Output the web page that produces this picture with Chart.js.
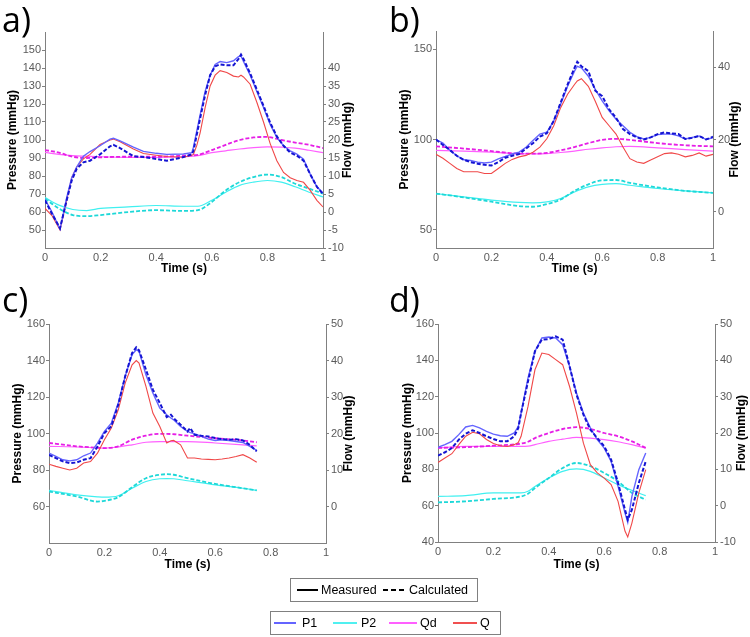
<!DOCTYPE html>
<html><head><meta charset="utf-8">
<script src="https://cdn.jsdelivr.net/npm/chart.js@4"></script>
<style>
body{margin:0;background:#fff;width:750px;height:637px;position:relative;overflow:hidden;font-family:"Liberation Sans",Arial,sans-serif}
canvas{position:absolute}
.lab{position:absolute;font-family:"Open Sans",sans-serif;font-size:34px;line-height:1;color:#000}
.box{position:absolute;border:1px solid #808080;background:#fff;box-sizing:border-box}
.ln{position:absolute;height:2px}
.tx{position:absolute;font-family:"Liberation Sans",Arial,sans-serif;font-size:12.5px;line-height:14px;color:#000;white-space:nowrap}
</style>
</head><body>
<canvas id="ca" width="375" height="290" style="left:0;top:0"></canvas>
<canvas id="cb" width="375" height="290" style="left:375px;top:0"></canvas>
<canvas id="cc" width="375" height="290" style="left:0;top:290px"></canvas>
<canvas id="cd" width="375" height="290" style="left:375px;top:290px"></canvas>
<div class="lab" style="left:2px;top:2px">a)</div>
<div class="lab" style="left:389px;top:2px">b)</div>
<div class="lab" style="left:2px;top:282px">c)</div>
<div class="lab" style="left:389px;top:282px">d)</div>

<div class="box" style="left:290px;top:578px;width:188px;height:24px"></div>
<div class="ln" style="left:297px;top:589px;width:21px;height:1.5px;background:#000"></div>
<div class="tx" style="left:321px;top:583px">Measured</div>
<div class="ln" style="left:383px;top:589px;width:5px;background:#000"></div>
<div class="ln" style="left:391px;top:589px;width:5px;background:#000"></div>
<div class="ln" style="left:399px;top:589px;width:5px;background:#000"></div>
<div class="tx" style="left:409px;top:583px">Calculated</div>

<div class="box" style="left:270px;top:611px;width:231px;height:24px"></div>
<div class="ln" style="left:274px;top:622px;width:22px;background:#6464ff"></div>
<div class="tx" style="left:302px;top:616px">P1</div>
<div class="ln" style="left:333px;top:622px;width:24px;background:#50f0f0"></div>
<div class="tx" style="left:361px;top:616px">P2</div>
<div class="ln" style="left:389px;top:622px;width:28px;background:#ff60ff"></div>
<div class="tx" style="left:420px;top:616px">Qd</div>
<div class="ln" style="left:453px;top:622px;width:24px;background:#f05050"></div>
<div class="tx" style="left:480px;top:616px">Q</div>

<script>
// ---------- tick labels ----------
const xTicks = [0, 0.2, 0.4, 0.6, 0.8, 1];
const aPTicks = [50, 60, 70, 80, 90, 100, 110, 120, 130, 140, 150];
const aFTicks = [-10, -5, 0, 5, 10, 15, 20, 25, 30, 35, 40];
const bPTicks = [50, 100, 150];
const bFTicks = [0, 20, 40];
const cPTicks = [60, 80, 100, 120, 140, 160];
const cFTicks = [0, 10, 20, 30, 40, 50];
const dPTicks = [40, 60, 80, 100, 120, 140, 160];
const dFTicks = [-10, 0, 10, 20, 30, 40, 50];

// ---------- panel a ----------
const aT = [0,0.025,0.054,0.078,0.096,0.114,0.138,0.162,0.198,0.234,0.246,0.27,0.318,0.354,0.4,0.438,0.498,0.528,0.534,0.546,0.558,0.576,0.594,0.612,0.63,0.654,0.678,0.696,0.705,0.714,0.738,0.762,0.786,0.81,0.834,0.858,0.882,0.906,0.93,0.954,0.978,1];
const aP1m = [67,60,50.5,68,79,85,91,93.6,96.8,100.5,101,99.5,96,93.7,92.6,92,92.2,93,96,105,114,127,136,142,143.6,143,144,146.3,146.7,143.6,136,127,118,108.7,101.4,96.8,94,92.2,89.4,81,74,70.5];
const aP1c = [66.5,59,51,66.5,77.5,84,87.6,88.5,92,96.5,97.3,95.5,91,90.5,89.5,88.5,90.5,92,94,103,112,125,136,141,142,141.5,141.5,145,147.5,145,137,128,119,109.6,102,96.8,93,91.3,88.5,81,74,70];
const aQ = [1,-1,-5,3.25,9.5,12.5,14.75,16,18.75,20,20.25,19.5,17.5,16.25,15.75,15.4,15.2,15.75,16,18.5,22,29,35,38,39.25,38.75,37.75,37.5,38,37.5,35.5,30.5,25,19,14.25,11,9.5,8.75,8.25,6,3.25,1.4];
const aTs = [0,0.05,0.1,0.15,0.2,0.3,0.4,0.5,0.55,0.6,0.65,0.7,0.75,0.8,0.85,0.9,0.95,1];
const aQdm = [16.55,16,15.65,15.5,15.35,15.2,15.2,15.35,15.65,16.5,17,17.5,17.9,18.1,18,17.75,17.15,16.5];
const aQdc = [17.2,16.5,15.35,15,15.2,15.35,15.35,15.65,15.9,17.2,18.65,20,20.7,20.85,20,19.3,18.65,17.75];
const aP2m = [68,63.8,61.4,60.8,62,62.8,63.6,63.2,63.2,66.5,71,74.8,76.6,77.5,76.6,74,71,68.4];
const aP2c = [67.4,62,58.3,57.7,58.3,60,61,60.6,61,65.6,72,76.6,79.4,80.8,79.4,75.7,73,70.2];

// ---------- panel b ----------
const bT = [0,0.025,0.05,0.075,0.1,0.125,0.15,0.175,0.2,0.225,0.25,0.275,0.3,0.325,0.35,0.375,0.4,0.425,0.45,0.475,0.5,0.51,0.525,0.55,0.575,0.6,0.625,0.65,0.675,0.7,0.725,0.75,0.775,0.8,0.825,0.85,0.875,0.9,0.925,0.95,0.975,1];
const bP1m = [100,98,94,91,88.8,88.4,87.5,87,87.5,89.3,90.6,92,93,95.7,99.4,103,104,110.3,119.5,129.5,137.8,140.5,139.6,135,127.7,121.3,115.8,111.2,107.6,104,101.6,100.3,101.2,102.7,103,103,102,100.3,101.2,102,100,101];
const bP1c = [100,97,94.2,91,88.8,87.5,86.6,86,85.6,87.5,89.9,91,92,95,97.9,101.6,103.4,110.3,120.4,130.4,139.6,143,140.5,137.8,127,124,116.7,112,105.8,103,101.2,100,101.2,103,103.9,103.4,103,100.3,100.9,102,100,101.5];
const bQ = [15.9,14.8,13.4,12,11.1,11.1,11.1,10.6,10.6,12,13.4,14.5,15.2,15.6,16.5,17.9,20.2,23.8,28.8,32.5,35.2,36.2,36.8,34.7,30.6,26.1,23.8,21.5,17.9,14.7,13.8,13.4,14.3,15.2,16.1,16.3,15.9,15.2,15.6,16.3,15.4,15.9];
const bTs = [0,0.1,0.2,0.3,0.35,0.4,0.45,0.5,0.55,0.6,0.65,0.7,0.8,0.9,1];
const bQdm = [17,16.8,16.5,16.1,16.05,16.1,16.4,16.8,17.3,17.7,18,18.1,17.7,17.2,16.8];
const bQdc = [18.1,17.5,16.8,16.1,16.1,16.3,17,17.9,19,19.9,20.2,19.9,19,18.4,18.1];
const bP2m = [70.1,68.3,66.5,65.2,65,65.5,67.4,71,73.8,75.2,75.6,74.7,72.9,71.6,70.5];
const bP2c = [70.1,68,65.6,63.2,62.8,64.3,66.8,71.6,75.2,77.4,77.6,76,73.5,71.6,70.5];

// ---------- panel c ----------
const cT = [0,0.025,0.05,0.075,0.1,0.125,0.15,0.175,0.2,0.225,0.25,0.275,0.3,0.315,0.325,0.35,0.375,0.4,0.425,0.44,0.45,0.475,0.5,0.51,0.525,0.55,0.575,0.6,0.625,0.65,0.675,0.7,0.725,0.75];
const cP1m = [89.3,87.4,85.6,85,85.6,87.8,89.3,94.7,101.1,105.7,116.7,131.3,143.2,145.9,145,132.2,122.2,113.9,110.3,108.5,107.5,103.9,101.1,100.5,99.9,98.4,96.9,96.2,96.6,96.2,95.6,95.1,92.9,90.7];
const cP1c = [88.3,86.5,84.7,83.8,84.1,85.6,86.5,92.9,100.2,103.9,115.8,131.3,144.1,147.2,145.6,135,124,116.7,109,110.3,108.4,104.8,101.1,103,99.3,98.8,98.4,97.5,96.9,96.6,96.9,96.2,93.8,90.2];
const cQ = [11.6,11,10.5,10,10.5,11.9,12.3,14.6,18.3,21.5,26.5,33.8,38.8,40,39.3,32.9,25.6,21.9,17.4,18,18.1,16.9,13.3,13.3,13.3,13,12.9,12.8,13,13.3,13.7,14.2,13.3,12.1];
const cTs = [0,0.1,0.175,0.2,0.25,0.3,0.35,0.4,0.425,0.45,0.5,0.6,0.7,0.75];
const cQdm = [16.5,16.3,16.1,16,16.3,16.9,17.6,17.8,17.8,17.8,17.8,17.4,16.9,16.6];
const cQdc = [17.4,16.5,16.1,16,16.5,18.3,19.4,19.9,19.9,19.8,19.4,18.7,18.1,17.6];
const cP2m = [68.8,66.4,65.3,65.1,65.9,70,73.7,75.2,75.3,75.2,74.1,71.9,70,68.8];
const cP2c = [68.2,65.5,62.7,63.1,65.1,70.6,75.5,77.4,77.7,77.4,75.5,72.4,70,68.8];

// ---------- panel d ----------
const dT = [0,0.025,0.05,0.075,0.1,0.125,0.15,0.175,0.2,0.225,0.25,0.275,0.29,0.3,0.325,0.35,0.375,0.4,0.425,0.45,0.475,0.5,0.525,0.55,0.575,0.6,0.625,0.65,0.675,0.685,0.7,0.725,0.75];
const dP1m = [92.1,93.6,95.4,99.1,103.3,104.2,102.8,100.9,99.4,98.5,98.2,100,103.7,111,130.3,145,152.3,152.8,152.3,148.6,136.7,122,111,102.8,96.3,91.7,84.4,70.6,56,50.8,65.1,79.8,89];
const dP1c = [87.5,89.4,91.7,96.3,99.6,101.5,100,98.2,96.7,95.4,95.4,98.2,102.8,111,128.4,145,151.4,151.7,153.2,151.4,136.7,121.1,110.1,101.8,97.2,92.7,85.3,72.5,57.8,52.3,57.8,72.5,84.4];
const dQ = [11.9,13.1,14.3,16.8,19.1,20.2,19.8,18.2,17.1,16.5,16.3,16.8,17.4,19.1,27.3,37.4,42,41.6,40.2,38.8,32.8,25.5,17.2,11.3,9,7.6,5.8,1.2,-7,-8.6,-4.8,3.5,9.9];
const dTs = [0,0.1,0.2,0.3,0.325,0.35,0.4,0.45,0.5,0.55,0.6,0.65,0.7,0.75];
const dQdm = [15.9,16.3,16.3,16.3,16.4,16.8,17.7,18.3,18.8,18.6,18.2,17.6,16.8,15.9];
const dQdc = [15.9,16.1,16.5,17.1,17.6,18.6,20,21.1,21.6,21.1,20,19.1,17.7,15.9];
const dP2m = [65.1,65.5,67,67,67.9,70.6,75.2,78.9,80.2,78.9,75.2,71.6,68.4,65.5];
const dP2c = [61.8,62.4,63.7,65.1,66.6,69.7,75.2,80.7,83.5,81.7,78,73.4,67,63.3];

// ---------- drawing ----------
const FONT = '"Liberation Sans", Arial, sans-serif';
const TICKC = '#5a5a5a';
const AXC = '#808080';

function pts(t, v){ return t.map((x,i)=>({x:x, y:v[i]})); }
function ds(t, v, color, w, dashed, axis, tension){
  return {data:pts(t,v), borderColor:color, borderWidth:w, borderDash: dashed?[4,2]:[],
    yAxisID:axis, pointRadius:0, fill:false, tension:tension||0, cubicInterpolationMode: tension? 'monotone':'default'};
}
const rightTitle = {
  id:'rtitle',
  afterDraw(c, args, o){
    const ctx=c.ctx, a=c.chartArea;
    ctx.save();
    ctx.font='bold 12px '+FONT; ctx.fillStyle='#000';
    ctx.textAlign='center'; ctx.textBaseline='middle';
    ctx.translate(o.x,(a.top+a.bottom)/2); ctx.rotate(-Math.PI/2);
    ctx.fillText('Flow (mmHg)',0,0);
    ctx.restore();
  }
};
function setTicks(arr){ return function(s){ s.ticks = arr.map(v=>({value:v})); }; }
function fmt(v){ return String(Math.round(v*10)/10); }

function panel(id, g, T, P1m, P1c, Q, Ts, Qdm, Qdc, P2m, P2c, pT, fT){
  new Chart(document.getElementById(id), {
    type:'line',
    data:{datasets:[
      ds(T, P1c, '#1414d2', 2, true, 'y'),
      ds(T, P1m, '#6464ff', 1.4, false, 'y'),
      ds(T, Q, '#f04848', 1.1, false, 'y2'),
      ds(Ts, Qdc, '#e61ee6', 1.8, true, 'y2', 0.4),
      ds(Ts, Qdm, '#ff60ff', 1.2, false, 'y2', 0.4),
      ds(Ts, P2c, '#1ed8d8', 1.8, true, 'y', 0.4),
      ds(Ts, P2m, '#40f0f0', 1.2, false, 'y', 0.4)
    ]},
    options:{
      responsive:false, animation:false, events:[],
      layout:{padding:{top:g.top, left:0, right:0, bottom:0}},
      plugins:{legend:{display:false}, tooltip:{enabled:false}, rtitle:{x:g.rt}},
      scales:{
        x:{type:'linear', min:0, max:1,
          afterBuildTicks:setTicks(xTicks), afterFit(s){ s.height = g.xh; },
          grid:{display:false, drawTicks:false}, border:{color:AXC, width:1},
          ticks:{callback:fmt, color:TICKC, font:{family:FONT,size:11}, padding:3, maxRotation:0, autoSkip:false},
          title:{display:true, text:'Time (s)', color:'#000', font:{family:FONT,size:12,weight:'bold'}, padding:{top:0,bottom:g.xtp}}},
        y:{type:'linear', position:'left', min:40, max:160,
          afterBuildTicks:setTicks(pT), afterFit(s){ s.width = g.left; },
          grid:{display:true, drawOnChartArea:false, drawTicks:true, tickLength:3, color:AXC},
          border:{color:AXC, width:1},
          ticks:{callback:fmt, color:TICKC, font:{family:FONT,size:11}, padding:1, autoSkip:false},
          title:{display:true, text:'Pressure (mmHg)', color:'#000', font:{family:FONT,size:12,weight:'bold'}, padding:{top:g.ltp,bottom:0}}},
        y2:{type:'linear', position:'right', min:-10, max:50,
          afterBuildTicks:setTicks(fT), afterFit(s){ s.width = 375 - g.right; },
          grid:{display:true, drawOnChartArea:false, drawTicks:true, tickLength:3, color:AXC},
          border:{color:AXC, width:1},
          ticks:{callback:fmt, color:TICKC, font:{family:FONT,size:11}, padding:2, autoSkip:false}}
      }
    },
    plugins:[rightTitle]
  });
}

panel('ca', {top:32, left:45, right:323, xh:42, xtp:13.8, ltp:5.8, rt:348}, aT, aP1m, aP1c, aQ, aTs, aQdm, aQdc, aP2m, aP2c, aPTicks, aFTicks);
panel('cb', {top:31, left:61, right:338, xh:42, xtp:13.8, ltp:22.8, rt:360}, bT, bP1m, bP1c, bQ, bTs, bQdm, bQdc, bP2m, bP2c, bPTicks, bFTicks);
panel('cc', {top:34, left:49, right:326, xh:37, xtp:7.8, ltp:10.8, rt:349}, cT, cP1m, cP1c, cQ, cTs, cQdm, cQdc, cP2m, cP2c, cPTicks, cFTicks);
panel('cd', {top:34, left:63, right:340, xh:38, xtp:7.8, ltp:25.8, rt:367}, dT, dP1m, dP1c, dQ, dTs, dQdm, dQdc, dP2m, dP2c, dPTicks, dFTicks);
</script>
</body></html>
